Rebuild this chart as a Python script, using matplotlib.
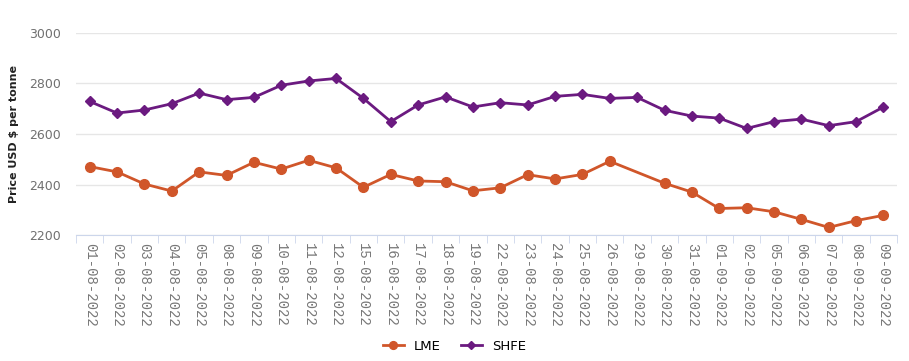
import matplotlib.pyplot as plt
import numpy as np

dates = ['01-08-2022', '02-08-2022', '03-08-2022', '04-08-2022', '05-08-2022',
         '08-08-2022', '09-08-2022', '10-08-2022', '11-08-2022', '12-08-2022',
         '15-08-2022', '16-08-2022', '17-08-2022', '18-08-2022', '19-08-2022',
         '22-08-2022', '23-08-2022', '24-08-2022', '25-08-2022', '26-08-2022',
         '29-08-2022', '30-08-2022', '31-08-2022', '01-09-2022', '02-09-2022',
         '05-09-2022', '06-09-2022', '07-09-2022', '08-09-2022', '09-09-2022']

lme = [2471, 2450, 2402, 2374, 2450, 2436, 2488, 2461, 2496, 2466,
       2389, 2440, 2414, 2411, 2375, 2387, 2439, 2422, 2440, 2492,
       np.nan, 2405, 2370, 2305, 2308, 2292, 2262, 2230, 2257, 2278]
shfe = [2729, 2683, 2695, 2720, 2762, 2736, 2745, 2793, 2810, 2820,
        2741, 2649, 2715, 2747, 2707, 2724, 2715, 2749, 2757, 2741,
        2745, 2694, 2671, 2663, 2622, 2649, 2659, 2633, 2649, 2707]

lme_col = '#d0562a'
shfe_col = '#6b1a80'

fig = plt.figure(figsize=(9.09, 3.61), dpi=100)
ax = fig.add_axes([0.0836, 0.349, 0.9034, 0.5596])

x = np.arange(len(dates))
lme_arr = np.array(lme, dtype=float)
ok = ~np.isnan(lme_arr)

ax.plot(x[ok], lme_arr[ok], color=lme_col, lw=2, marker='o', ms=7, label='LME')
ax.plot(x, shfe, color=shfe_col, lw=2, marker='D', ms=5.5, label='SHFE')

ax.set_xlim(-0.5, len(dates) - 0.5)
ax.set_ylim(2200, 3000)
ax.set_yticks([2200, 2400, 2600, 2800, 3000])
ax.grid(axis='y', color='#e6e6e6', lw=1)
ax.set_axisbelow(True)

ax.set_xticks(x)
ax.set_xticklabels(dates, rotation=270, fontsize=10, color='#777777',
                   family='Liberation Mono')
ax.set_xticks(np.arange(len(dates) + 1) - 0.5, minor=True)
ax.tick_params(axis='x', which='major', length=0, pad=6)
ax.tick_params(axis='x', which='minor', length=6, color='#ccd6eb')
ax.tick_params(axis='y', length=0, labelsize=9, labelcolor='#707070', pad=11)

for s in ['top', 'right', 'left']:
    ax.spines[s].set_visible(False)
ax.spines['bottom'].set_color('#ccd6eb')

ax.set_ylabel('Price USD $ per tonne', fontsize=8, fontweight='bold', color='#222222', labelpad=7)

fig.legend(loc='center', bbox_to_anchor=(0.5, 0.04), ncol=2, frameon=False,
           fontsize=9.5, handlelength=1.6, columnspacing=1.5, markerscale=0.8)

plt.savefig('out.png', dpi=100)
